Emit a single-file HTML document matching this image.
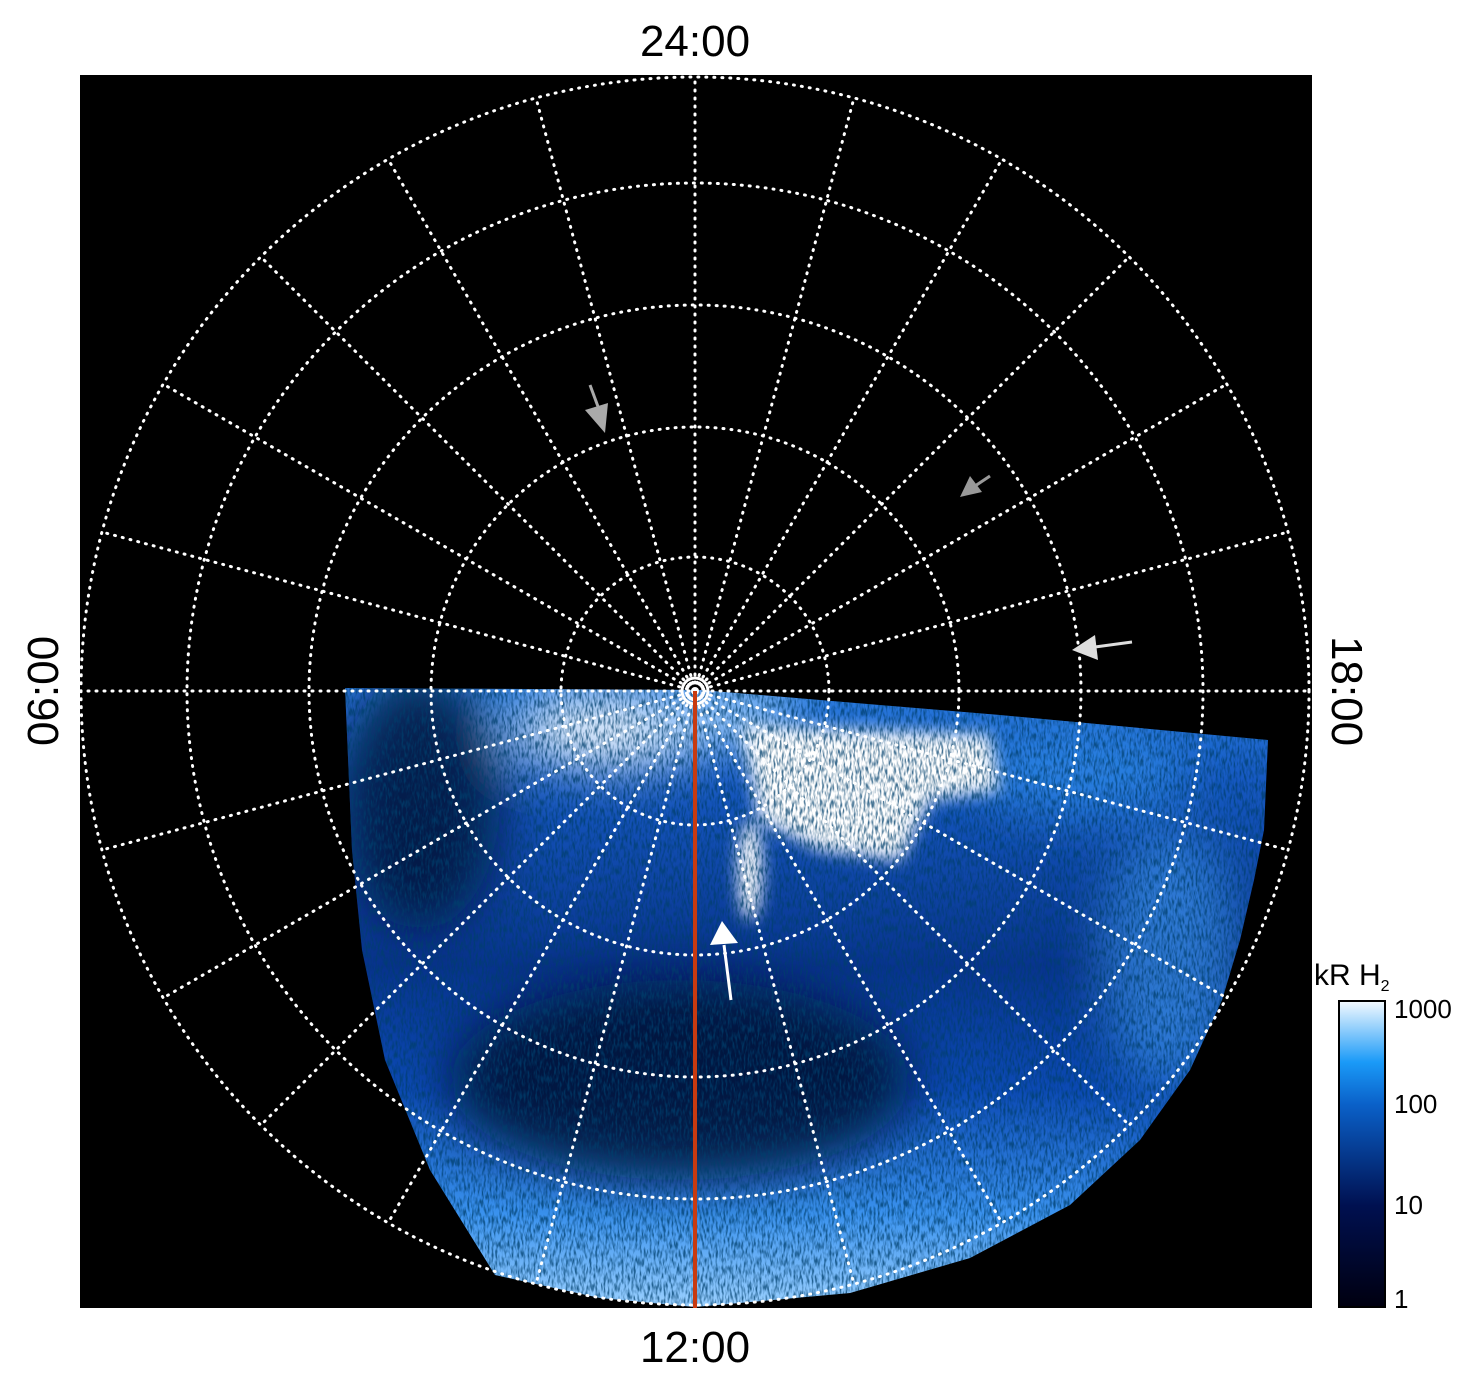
<!DOCTYPE html>
<html><head><style>body{margin:0;background:#fff}svg{display:block}</style></head><body>
<svg width="1480" height="1384" viewBox="0 0 1480 1384" xmlns="http://www.w3.org/2000/svg" font-family="Liberation Sans, sans-serif">
<defs>
<clipPath id="data"><path d="M345,688 L700,690 L1000,715 L1268,740 L1264,830 L1254,880 L1240,940 L1222,1000 L1190,1070 L1140,1140 L1070,1205 L970,1258 L850,1293 L695,1307 L600,1298 L495,1275 L430,1170 L385,1060 L362,950 L352,850 Z"/></clipPath>
<linearGradient id="bg" x1="0" y1="688" x2="0" y2="1307" gradientUnits="userSpaceOnUse">
<stop offset="0" stop-color="#2a7ce0"/><stop offset="0.15" stop-color="#1658c0"/><stop offset="0.45" stop-color="#08348e"/><stop offset="0.65" stop-color="#0c4ab4"/><stop offset="0.85" stop-color="#3a92ee"/><stop offset="1" stop-color="#9ad0ff"/>
</linearGradient>
<linearGradient id="cb" x1="0" y1="1" x2="0" y2="0">
<stop offset="0" stop-color="#000010"/><stop offset="0.33" stop-color="#001050"/><stop offset="0.66" stop-color="#0a60c8"/><stop offset="0.8" stop-color="#1a9af8"/><stop offset="1" stop-color="#f4faff"/>
</linearGradient>
<filter id="blur"><feGaussianBlur stdDeviation="25"/></filter>
<filter id="blur2"><feGaussianBlur stdDeviation="8"/></filter>
<filter id="noise"><feTurbulence type="fractalNoise" baseFrequency="0.5 0.12" numOctaves="2" seed="5"/><feColorMatrix values="0 0 0 0 0  0 0 0 0 0.05  0 0 0 0 0.15  -3 0 0 0 1.75"/></filter>
</defs>
<rect x="80" y="75" width="1232" height="1233" fill="#000"/>
<g clip-path="url(#data)">
<rect x="300" y="680" width="1000" height="640" fill="url(#bg)"/>
<g filter="url(#blur)">
<ellipse cx="680" cy="1080" rx="230" ry="100" fill="#000a30" opacity="0.85"/>
<ellipse cx="420" cy="800" rx="80" ry="130" fill="#000a30" opacity="0.8"/>
<ellipse cx="610" cy="730" rx="100" ry="35" fill="#f0f8ff"/>
<ellipse cx="720" cy="715" rx="80" ry="25" fill="#a8d4ff"/>
<ellipse cx="1080" cy="770" rx="110" ry="45" fill="#2a80e0"/>
<ellipse cx="1170" cy="960" rx="70" ry="130" fill="#3a90e8" opacity="0.7"/>
</g>
<g filter="url(#blur2)">
<path d="M740,725 L990,735 L1000,790 L930,800 L900,860 L820,850 L760,820 Z" fill="#fff"/>
<ellipse cx="750" cy="870" rx="12" ry="50" fill="#fff"/>
</g>
<rect x="300" y="680" width="1000" height="640" filter="url(#noise)" opacity="0.75"/>
</g>
<g stroke="#fff" stroke-width="3" stroke-dasharray="1 7" stroke-linecap="round" fill="none">
<circle cx="695" cy="691" r="614"/><circle cx="695" cy="691" r="508"/><circle cx="695" cy="691" r="386"/><circle cx="695" cy="691" r="264"/><circle cx="695" cy="691" r="134"/>
<g id="rad">
<line x1="695" y1="691" x2="695" y2="77"/><line x1="695" y1="691" x2="854" y2="98"/><line x1="695" y1="691" x2="1002" y2="159"/><line x1="695" y1="691" x2="1129" y2="257"/><line x1="695" y1="691" x2="1227" y2="384"/><line x1="695" y1="691" x2="1288" y2="532"/>
<line x1="695" y1="691" x2="536" y2="98"/><line x1="695" y1="691" x2="388" y2="159"/><line x1="695" y1="691" x2="261" y2="257"/><line x1="695" y1="691" x2="163" y2="384"/><line x1="695" y1="691" x2="102" y2="532"/>
</g>
<use href="#rad" transform="rotate(180 695 691)"/>
<line x1="80" y1="691" x2="1310" y2="691"/>
</g>
<circle cx="695" cy="691" r="13" fill="none" stroke="#fff" stroke-width="3"/>
<circle cx="695" cy="691" r="4" fill="#fff"/>
<line x1="695" y1="691" x2="695" y2="1308" stroke="#c83a10" stroke-width="4"/>
<g stroke-width="3">
<line x1="590" y1="385" x2="600" y2="412" stroke="#aaa"/><polygon points="585,410 608,403 605,433" fill="#aaa"/>
<line x1="990" y1="476" x2="975" y2="486" stroke="#999"/><polygon points="960,497 970,476 982,492" fill="#999"/>
<line x1="1132" y1="642" x2="1095" y2="647" stroke="#ddd"/><polygon points="1072,650 1095,635 1098,660" fill="#ddd"/>
<line x1="731" y1="1000" x2="724" y2="945" stroke="#fff"/><polygon points="722,921 710,945 738,943" fill="#fff"/>
</g>
<rect x="1339" y="1001" width="46" height="306" fill="url(#cb)" stroke="#000" stroke-width="2"/>
<g font-size="44" fill="#000" text-anchor="middle">
<text x="695" y="56">24:00</text>
<text x="695" y="1362">12:00</text>
<text transform="translate(58,691) rotate(-90)">06:00</text>
<text transform="translate(1332,691) rotate(90)">18:00</text>
</g>
<text x="1314" y="985" font-size="30">kR H<tspan font-size="16" dy="6">2</tspan></text>
<g font-size="26">
<text x="1394" y="1018">1000</text><text x="1394" y="1113">100</text><text x="1394" y="1214">10</text><text x="1394" y="1308">1</text>
</g>
</svg>
</body></html>
